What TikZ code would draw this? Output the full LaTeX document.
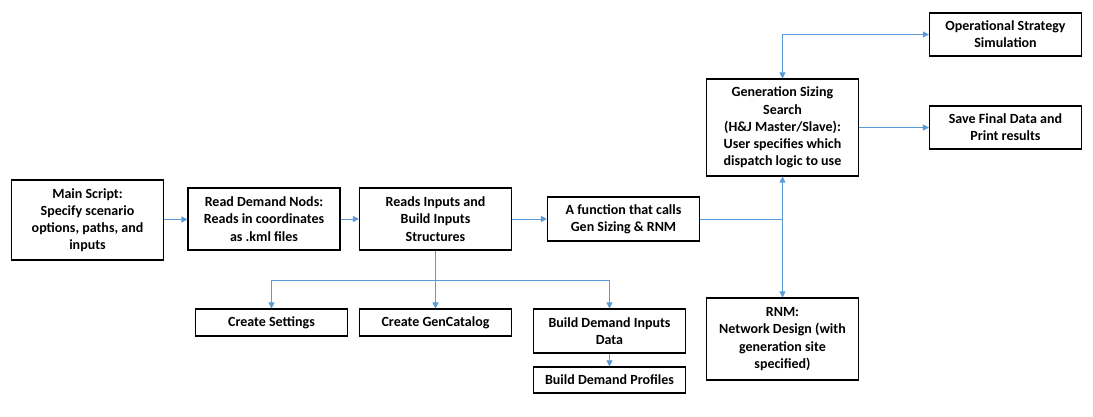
\documentclass[tikz,border=0pt]{standalone}
\usepackage{fontspec}
\setmainfont{Carlito}
\usepackage{tikz}
\usetikzlibrary{arrows.meta, positioning}
\definecolor{linkblue}{RGB}{91,155,213}

\begin{document}
\begin{tikzpicture}[x=1pt, y=-1pt,
    box/.style={draw=black, line width=1.1pt, align=center, inner sep=2pt,
        minimum width=152pt, font=\fontsize{14}{17.2}\selectfont\bfseries},
    link/.style={draw=linkblue, line width=0.8pt},
    >={Triangle[length=6pt, width=6pt]}]
    \useasboundingbox (0,0) rectangle (1093,416);
    % main row
    \node[box, minimum height=80pt] (main) at (87.5,220) {Main Script:\\Specify scenario\\options, paths, and\\inputs};
    \node[box, minimum height=62pt] (read) at (264,219) {Read Demand Nods:\\Reads in coordinates\\as .kml files};
    \node[box, minimum height=62pt] (inputs) at (435.5,219) {Reads Inputs and\\Build Inputs\\Structures};
    \node[box, minimum height=44pt] (func) at (623.5,219) {A function that calls\\Gen Sizing \& RNM};
    % right column
    \node[box, minimum height=97pt] (gen) at (782.5,127.5) {Generation Sizing\\Search\\(H\&J Master/Slave):\\User specifies which\\dispatch logic to use};
    \node[box, minimum height=43pt] (oper) at (1005.5,34.5) {Operational Strategy\\Simulation};
    \node[box, minimum height=43pt] (save) at (1005.5,127.5) {Save Final Data and\\Print results};
    \node[box, minimum height=82pt] (rnm) at (782.5,339) {RNM:\\Network Design (with\\generation site\\specified)};
    % lower row
    \node[box, minimum height=27pt] (settings) at (271.5,322.5) {Create Settings};
    \node[box, minimum height=27pt] (catalog) at (435.5,322.5) {Create GenCatalog};
    \node[box, minimum height=44pt] (bdata) at (609.5,331) {Build Demand Inputs\\Data};
    \node[box, minimum height=26pt] (bprof) at (609.5,380) {Build Demand Profiles};

    % connectors
    \draw[link, ->] (main) -- (read);
    \draw[link, ->] (read) -- (inputs);
    \draw[link, ->] (inputs.east |- func.west) -- (func.west);
    \draw[link] (func.east) -- (func.east -| gen.south) coordinate (split);
    \draw[link, ->] (split) -- (gen.south);
    \draw[link, ->] (split) -- (rnm.north);
    \draw[link, <->] (gen.north) |- (oper.west);
    \draw[link, ->] (gen.east |- save.west) -- (save.west);
    \draw[link] (inputs.south) -- ++(0,30) coordinate (fork);
    \draw[link, ->] (fork) -- (catalog.north);
    \draw[link, ->] (fork) -| (settings.north);
    \draw[link, ->] (fork) -| (bdata.north);
    \draw[link, ->] (bdata) -- (bprof);
\end{tikzpicture}
\end{document}
